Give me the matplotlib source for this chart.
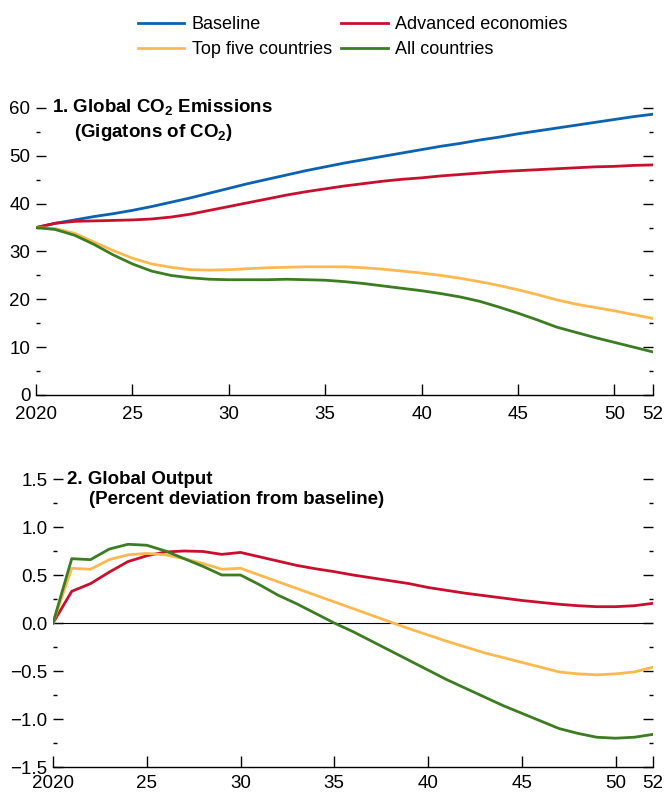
import matplotlib
matplotlib.use("Agg")
import matplotlib.pyplot as plt
from matplotlib.ticker import MultipleLocator, FixedLocator

plt.rcParams['font.family'] = ['Liberation Sans Narrow', 'Liberation Sans', 'DejaVu Sans']
plt.rcParams['mathtext.fontset'] = 'custom'

years = list(range(2020, 2053))

# Panel 1: global CO2 emissions, gigatons
baseline = [35.0, 35.9, 36.6, 37.3, 37.9, 38.6, 39.4, 40.3, 41.2, 42.2, 43.2, 44.2,
            45.1, 46.0, 46.9, 47.7, 48.5, 49.2, 49.9, 50.6, 51.3, 52.0, 52.6, 53.3,
            53.9, 54.6, 55.2, 55.8, 56.4, 57.0, 57.6, 58.2, 58.7]
advanced_co2 = [35.0, 35.9, 36.3, 36.4, 36.5, 36.6, 36.8, 37.2, 37.8, 38.6, 39.4, 40.2,
                41.0, 41.8, 42.5, 43.1, 43.7, 44.2, 44.7, 45.1, 45.4, 45.8, 46.1, 46.4,
                46.7, 46.9, 47.1, 47.3, 47.5, 47.7, 47.8, 48.0, 48.1]
top5_co2 = [35.0, 34.8, 33.8, 32.0, 30.2, 28.6, 27.4, 26.7, 26.2, 26.1, 26.2, 26.4,
            26.6, 26.7, 26.8, 26.8, 26.8, 26.6, 26.3, 25.9, 25.5, 25.0, 24.4, 23.7,
            22.9, 22.0, 21.0, 19.9, 19.0, 18.3, 17.6, 16.8, 16.0]
all_co2 = [35.0, 34.6, 33.4, 31.5, 29.3, 27.4, 25.9, 25.0, 24.5, 24.2, 24.1, 24.1,
           24.1, 24.2, 24.1, 24.0, 23.7, 23.3, 22.8, 22.3, 21.8, 21.2, 20.5, 19.6,
           18.4, 17.1, 15.7, 14.2, 13.1, 12.0, 11.0, 10.0, 9.0]

# Panel 2: global output, percent deviation from baseline
advanced_out = [0.0, 0.33, 0.41, 0.53, 0.64, 0.70, 0.74, 0.75, 0.745, 0.715, 0.735, 0.69,
                0.645, 0.60, 0.565, 0.535, 0.50, 0.47, 0.44, 0.41, 0.37, 0.34, 0.31,
                0.285, 0.26, 0.235, 0.215, 0.195, 0.18, 0.17, 0.17, 0.18, 0.205]
top5_out = [0.0, 0.57, 0.56, 0.66, 0.71, 0.725, 0.71, 0.67, 0.62, 0.56, 0.57, 0.50,
            0.43, 0.36, 0.29, 0.22, 0.15, 0.08, 0.01, -0.06, -0.125, -0.19, -0.25,
            -0.31, -0.36, -0.41, -0.46, -0.51, -0.53, -0.54, -0.53, -0.51, -0.46]
all_out = [0.0, 0.67, 0.66, 0.77, 0.82, 0.81, 0.75, 0.67, 0.59, 0.50, 0.50, 0.40,
           0.29, 0.20, 0.10, 0.0, -0.09, -0.19, -0.29, -0.39, -0.49, -0.59, -0.68,
           -0.77, -0.86, -0.94, -1.02, -1.10, -1.15, -1.19, -1.20, -1.19, -1.16]

BLUE = '#0b62b0'
RED = '#c8102e'
YELLOW = '#fdb94f'
GREEN = '#3c7d22'
LW = 2.0
FS = 13.5

xtick_pos = [2020, 2025, 2030, 2035, 2040, 2045, 2050, 2052]
xtick_lab = ['2020', '25', '30', '35', '40', '45', '50', '52']


def style_axis(ax, ylim, major, minor, fmt, xpad):
    ax.set_xlim(2020, 2052)
    ax.set_ylim(*ylim)
    for s in ('left', 'right', 'top'):
        ax.spines[s].set_visible(False)
    ax.spines['bottom'].set_linewidth(1.0)
    ax.xaxis.set_major_locator(FixedLocator(xtick_pos))
    ax.set_xticklabels(xtick_lab)
    ax.tick_params(axis='x', direction='in', length=8, width=1.0, labelsize=FS, pad=xpad)
    ax.yaxis.set_major_locator(MultipleLocator(major))
    ax.yaxis.set_minor_locator(MultipleLocator(minor))
    ax.yaxis.set_major_formatter(fmt)
    ax.tick_params(axis='y', which='both', direction='in', left=True, right=True,
                   labelsize=FS, pad=4, width=1.0)
    ax.tick_params(axis='y', which='major', length=7)
    ax.tick_params(axis='y', which='minor', length=3)


fig = plt.figure(figsize=(6.65, 7.94), dpi=100)

ax1 = fig.add_axes([36 / 665, 1 - 395 / 794, (653 - 36) / 665, (395 - 108) / 794])
ax1.plot(years, baseline, color=BLUE, lw=LW, label='Baseline')
ax1.plot(years, advanced_co2, color=RED, lw=LW, label='Advanced economies')
ax1.plot(years, top5_co2, color=YELLOW, lw=LW, label='Top five countries')
ax1.plot(years, all_co2, color=GREEN, lw=LW, label='All countries')
style_axis(ax1, (0, 60), 10, 5, lambda v, p: f'{v:.0f}', 8)
ax1.text(0.026, 1.0, r'1. Global CO$_\mathregular{2}$ Emissions', transform=ax1.transAxes,
         fontsize=FS, fontweight='bold', va='center', ha='left')
ax1.text(0.062, 0.915, r'(Gigatons of CO$_\mathregular{2}$)', transform=ax1.transAxes,
         fontsize=FS, fontweight='bold', va='center', ha='left')

ax2 = fig.add_axes([53 / 665, 1 - 767 / 794, (653 - 53) / 665, (767 - 479) / 794])
ax2.axhline(0, color='black', lw=0.8)
ax2.plot(years, advanced_out, color=RED, lw=LW)
ax2.plot(years, top5_out, color=YELLOW, lw=LW)
ax2.plot(years, all_out, color=GREEN, lw=LW)
style_axis(ax2, (-1.5, 1.5), 0.5, 0.25,
           lambda v, p: f'{v:.1f}'.replace('-', '\u2212') if abs(v) > 1e-9 else '0.0', 6)
ax2.text(0.023, 1.0, '2. Global Output', transform=ax2.transAxes,
         fontsize=FS, fontweight='bold', va='center', ha='left')
ax2.text(0.06, 0.93, '(Percent deviation from baseline)', transform=ax2.transAxes,
         fontsize=FS, fontweight='bold', va='center', ha='left')

# legend fills column-wise: order so rows read Baseline/Advanced, Top five/All
handles, labels = ax1.get_legend_handles_labels()
order = [0, 2, 1, 3]
fig.legend([handles[i] for i in order], [labels[i] for i in order],
           loc='upper center', bbox_to_anchor=(0.53, 1.0), ncol=2,
           frameon=False, fontsize=13, handlelength=2.6, handletextpad=0.4,
           columnspacing=0.5, labelspacing=0.45)

fig.savefig('out.png', dpi=100)
